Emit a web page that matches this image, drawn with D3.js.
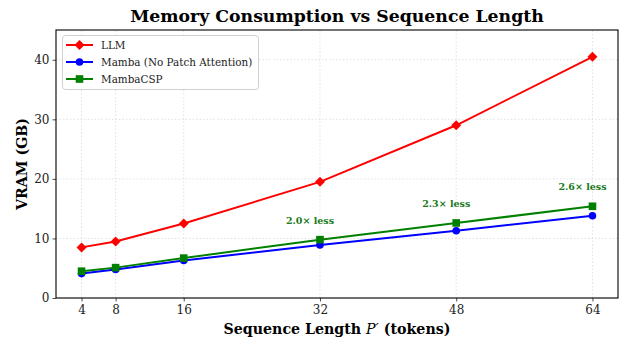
<!DOCTYPE html>
<html>
<head>
  <meta charset="utf-8">
  <style>
    body { margin: 0; background: #fff; }
    text { font-family: "DejaVu Serif", "Liberation Serif", serif; }
    .grid line { stroke: #d9d9d9; stroke-dasharray: 1.5 2; stroke-width: 0.8; }
  </style>
</head>
<body>
  <svg id="chart" width="630" height="341"></svg>

  <script src="https://cdn.jsdelivr.net/npm/d3@7"></script>
  <script>
    var seqLen = [4, 8, 16, 32, 48, 64];
    var llm = [8.5, 9.5, 12.5, 19.5, 29.0, 40.5];
    var mamba = [4.1, 4.8, 6.3, 8.9, 11.3, 13.8];
    var mambaCSP = [4.5, 5.1, 6.7, 9.8, 12.6, 15.4];
    var yTicks = [0, 10, 20, 30, 40];
    var notes = [
      { x: 32, y: 9.8, label: '2.0× less' },
      { x: 48, y: 12.6, label: '2.3× less' },
      { x: 64, y: 15.4, label: '2.6× less' }
    ];

    var series = [
      { name: 'LLM', values: llm, color: '#ff0000', marker: 'diamond' },
      { name: 'Mamba (No Patch Attention)', values: mamba, color: '#0000ff', marker: 'circle' },
      { name: 'MambaCSP', values: mambaCSP, color: '#008000', marker: 'square' }
    ];

    var margin = { left: 56, right: 12, top: 30, bottom: 43 };
    var width = 630, height = 341;

    var x = d3.scaleLinear().domain([1, 67]).range([margin.left, width - margin.right]);
    var y = d3.scaleLinear().domain([0, 45]).range([height - margin.bottom, margin.top]);

    var svg = d3.select('#chart');

    // grid
    svg.append('g').attr('class', 'grid')
      .selectAll('line.v').data(seqLen).enter().append('line')
      .attr('x1', d => x(d)).attr('x2', d => x(d))
      .attr('y1', y.range()[0]).attr('y2', y.range()[1]);
    svg.append('g').attr('class', 'grid')
      .selectAll('line.h').data(yTicks).enter().append('line')
      .attr('y1', d => y(d)).attr('y2', d => y(d))
      .attr('x1', x.range()[0]).attr('x2', x.range()[1]);

    // axes
    var xAxis = svg.append('g')
      .attr('transform', 'translate(0,' + y(0) + ')')
      .call(d3.axisBottom(x).tickValues(seqLen).tickSize(3.5).tickPadding(4));
    var yAxis = svg.append('g')
      .attr('transform', 'translate(' + x(1) + ',0)')
      .call(d3.axisLeft(y).tickValues(yTicks).tickSize(3.5).tickPadding(3));
    [xAxis, yAxis].forEach(function (a) {
      a.select('.domain').remove();
      a.selectAll('text').style('font-size', '12px').attr('fill', '#222');
      a.selectAll('line').attr('stroke', '#222').attr('stroke-width', 0.8);
    });

    // frame
    svg.append('rect')
      .attr('x', x.range()[0]).attr('y', y.range()[1])
      .attr('width', x.range()[1] - x.range()[0])
      .attr('height', y.range()[0] - y.range()[1])
      .attr('fill', 'none').attr('stroke', '#000').attr('stroke-width', 1.1);

    var line = d3.line().x((d, i) => x(seqLen[i])).y(d => y(d));

    function drawMarker(g, type, color) {
      if (type === 'diamond') {
        g.append('path').attr('d', 'M0,-5 L5,0 L0,5 L-5,0 Z').attr('fill', color);
      } else if (type === 'circle') {
        g.append('circle').attr('r', 3.8).attr('fill', color);
      } else {
        g.append('rect').attr('x', -3.8).attr('y', -3.8).attr('width', 7.6).attr('height', 7.6).attr('fill', color);
      }
    }

    series.forEach(function (s) {
      svg.append('path')
        .datum(s.values)
        .attr('d', line)
        .attr('fill', 'none')
        .attr('stroke', s.color)
        .attr('stroke-width', 2);
      svg.append('g').selectAll('g').data(s.values).enter().append('g')
        .attr('transform', (d, i) => 'translate(' + x(seqLen[i]) + ',' + y(d) + ')')
        .each(function () { drawMarker(d3.select(this), s.marker, s.color); });
    });

    // annotations
    svg.selectAll('text.note').data(notes).enter().append('text')
      .attr('class', 'note')
      .attr('x', d => x(d.x) - 10)
      .attr('y', d => y(d.y) - 16)
      .attr('text-anchor', 'middle')
      .attr('fill', '#1a7a1a')
      .style('font-size', '9.5px')
      .style('font-weight', 'bold')
      .text(d => d.label);

    // legend
    var lg = svg.append('g');
    lg.append('rect')
      .attr('x', 62.5).attr('y', 35.5).attr('width', 196).attr('height', 54)
      .attr('rx', 3).attr('fill', '#fff').attr('fill-opacity', 0.85)
      .attr('stroke', '#d0d0d0').attr('stroke-width', 1);
    series.forEach(function (s, i) {
      var ly = 45 + i * 17;
      lg.append('line').attr('x1', 66).attr('x2', 93).attr('y1', ly).attr('y2', ly)
        .attr('stroke', s.color).attr('stroke-width', 2);
      drawMarker(lg.append('g').attr('transform', 'translate(79.5,' + ly + ')'), s.marker, s.color);
      lg.append('text').attr('x', 101).attr('y', ly + 3.8)
        .style('font-size', '10.4px').attr('fill', '#222').text(s.name);
    });

    // title and labels
    svg.append('text')
      .attr('x', (x.range()[0] + x.range()[1]) / 2).attr('y', 22)
      .attr('text-anchor', 'middle')
      .style('font-size', '17.3px').style('font-weight', 'bold')
      .text('Memory Consumption vs Sequence Length');

    svg.append('text')
      .attr('transform', 'translate(27,' + (y.range()[0] + y.range()[1]) / 2 + ') rotate(-90)')
      .attr('text-anchor', 'middle')
      .style('font-size', '14.2px').style('font-weight', 'bold')
      .text('VRAM (GB)');

    var xl = svg.append('text')
      .attr('x', (x.range()[0] + x.range()[1]) / 2).attr('y', 334)
      .attr('text-anchor', 'middle')
      .style('font-size', '14.2px').style('font-weight', 'bold');
    xl.append('tspan').text('Sequence Length ');
    xl.append('tspan').style('font-style', 'italic').style('font-weight', 'normal').text('P′');
    xl.append('tspan').text(' (tokens)');
  </script>
</body>
</html>
